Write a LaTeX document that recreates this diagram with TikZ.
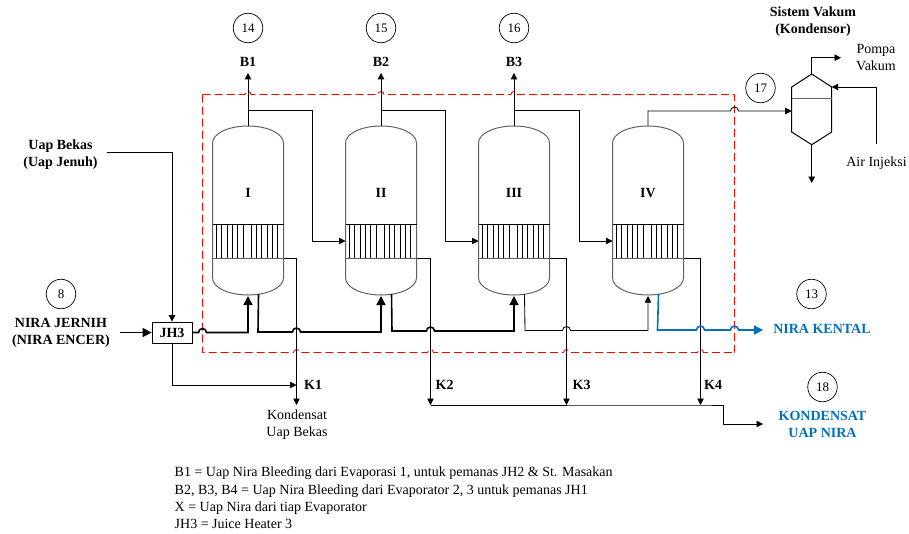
\documentclass[tikz,border=0pt]{standalone}
\usepackage{fontspec}
\setmainfont{Liberation Serif}
\usetikzlibrary{arrows.meta,calc,positioning}

\definecolor{niraBlue}{HTML}{0070C0}
\newcommand{\hopat}[2]{-- ($#2+(-#1,0)$) arc[start angle=180,end angle=0,radius=#1pt]}

\begin{document}
\begin{tikzpicture}[
  x=1pt, y=-1pt,
  font=\fontsize{14}{17.2}\selectfont,
  wall/.style={draw=black!62, line width=1pt},
  tube/.style={black, line width=.7pt},
  pipe/.style={black, line width=.85pt},
  thickpipe/.style={black, line width=1.6pt},
  bluepipe/.style={niraBlue, line width=1.6pt},
  redbox/.style={red, line width=.9pt, dash pattern=on 8pt off 4pt},
  tip/.style={-{Triangle[length=6.5pt,width=6.5pt]}},
  bigtip/.style={-{Triangle[length=9pt,width=9pt]}},
  tag/.style={circle, draw=black, line width=.7pt, minimum size=29.5pt, inner sep=0pt, font=\fontsize{13}{13}\selectfont},
  lbl/.style={inner sep=0pt, align=center},
  boldlbl/.style={inner sep=0pt, align=center, font=\fontsize{14}{17.2}\selectfont\bfseries},
  bluelbl/.style={boldlbl, text=niraBlue}
]
\useasboundingbox (0,0) rectangle (909,533);

\coordinate (rnw) at (202.5,94.5);
\coordinate (rse) at (734.5,352.5);

\foreach \n/\cx/\kx/\lab in {1/248/296.5/I,2/381/430.5/II,3/514/566.5/III,4/648/700.5/IV} {
  \draw[wall] (\cx-35.5,278) -- (\cx-35.5,143) arc[start angle=180,end angle=0,x radius=35.5pt,y radius=17pt]
    -- (\cx+35.5,278) arc[start angle=0,end angle=-180,x radius=35.5pt,y radius=17pt];
  \foreach \d in {4,9.3,14.7,20,25.3,30.7,38.7,44,49.3,54.7,60,65.3}
    \draw[tube] (\cx-35.5+\d,224) -- ++(0,34);
  \draw[tube] (\cx-35.5,224) -- (\cx+35.5,224);
  \draw[wall] (\cx-35.5,258) -- (\cx+35.5,258);
  \node[boldlbl] (ves\n) at (\cx,193) {\lab};
  \coordinate (top\n) at (\cx,126);
  \coordinate (vent\n) at (\cx,110.5);
  \coordinate (in\n) at (\cx,296);
  \coordinate (out\n) at (\cx+10.5,294);
  \coordinate (band\n) at (\cx+35.5,258);
  \coordinate (tb\n) at (\cx-35.5,241);
  \coordinate (kt\n) at (\kx,258);
  \coordinate (kb\n) at (\kx,405);
}

\draw[redbox] (rnw) \hopat{3}{(top1 |- rnw)} \hopat{3}{(top2 |- rnw)} \hopat{3}{(top3 |- rnw)} -- (rse |- rnw) -- (rse);
\draw[redbox] (rnw) -- (rnw |- rse) \hopat{3}{(kt1 |- rse)} \hopat{3}{(kt2 |- rse)} \hopat{3}{(kt3 |- rse)} \hopat{3}{(kt4 |- rse)} -- (rse);

\node[tag] (c14) at (248,28) {14};
\node[tag] (c15) at (381,28) {15};
\node[tag] (c16) at (514,28) {16};
\node[tag] (c17) at (760.5,88) {17};
\node[tag] (c8) at (61,294) {8};
\node[tag] (c13) at (811.5,294) {13};
\node[tag] (c18) at (822.5,387) {18};

\node[boldlbl] (b1) at (248,62) {B1};
\node[boldlbl] (b2) at (381,62) {B2};
\node[boldlbl] (b3) at (514,62) {B3};
\node[boldlbl, anchor=west] (k1) at (304,385) {K1};
\node[boldlbl, anchor=west] (k2) at (435.5,385) {K2};
\node[boldlbl, anchor=west] (k3) at (572.5,385) {K3};
\node[boldlbl, anchor=west] (k4) at (704,385) {K4};

\node[boldlbl] (uap) at (60.5,154.5) {Uap Bekas\\(Uap Jenuh)};
\node[boldlbl] (nira) at (61,332.5) {NIRA JERNIH\\(NIRA ENCER)};
\node[boldlbl, draw=black, line width=.8pt, minimum width=40pt, minimum height=21pt] (jh3) at (172,332.5) {JH3};
\node[lbl] (kubekas) at (297,424.5) {Kondensat\\Uap Bekas};
\node[bluelbl] (kental) at (822,329) {NIRA KENTAL};
\node[bluelbl] (kduap) at (822.5,424.5) {KONDENSAT\\UAP NIRA};
\node[boldlbl] (vakum) at (813,22) {Sistem Vakum\\(Kondensor)};
\node[lbl] (pompa) at (876,57.5) {Pompa\\Vakum};
\node[lbl] (air) at (876.5,163.5) {Air Injeksi};
\node[lbl, anchor=north west, align=left] (legend) at (174.5,467) {B1 = Uap Nira Bleeding dari Evaporasi 1, untuk pemanas JH2 \& St. Masakan\\
  B2, B3, B4 = Uap Nira Bleeding dari Evaporator 2, 3 untuk pemanas JH1\\
  X = Uap Nira dari tiap Evaporator\\
  JH3 = Juice Heater 3};

\coordinate (f1) at (258,332);
\coordinate (f2) at (392,331);
\coordinate (f3) at (525,330.5);
\coordinate (f4) at (657.5,330);
\coordinate (kf) at (723,424);
\coordinate (cdtop) at (811.7,74);
\coordinate (cdbot) at (811.7,144.7);
\coordinate (cdin) at (791.7,111);
\coordinate (cdair) at (831.7,87);

\draw[pipe, tip] (top1) -- ([yshift=-6pt]b1.south);
\draw[pipe, tip] (top2) -- ([yshift=-6pt]b2.south);
\draw[pipe, tip] (top3) -- ([yshift=-6pt]b3.south);
\draw[pipe, tip] (vent1) -| ($(tb2)+(-33,0)$) -- (tb2);
\draw[pipe, tip] (vent2) -| ($(tb3)+(-33,0)$) -- (tb3);
\draw[pipe, tip] (vent3) -| ($(tb4)+(-33,0)$) -- (tb4);
\draw[pipe, tip] (top4) -- (vent4 |- cdin) \hopat{4}{(rse |- cdin)} -- (cdin);

\draw[pipe, tip] (106.7,152.5) -| (jh3.north);
\draw[pipe, tip] (jh3.south) |- (kt1 |- k1);
\draw[pipe, tip] (band1) -- (kt1) -- (kb1);
\draw[pipe, tip] (band2) -- (kt2) -- (kb2);
\draw[pipe, tip] (band3) -- (kt3) -- (kb3);
\draw[pipe, tip] (band4) -- (kt4) -- (kb4);
\draw[pipe, tip] (kb2) -- (kb4) -- (kb4 -| kf) -- (kf) -- ++(40,0);

\draw[thickpipe, bigtip] ([xshift=10pt]nira.east) -- (jh3.west);
\draw[thickpipe, bigtip] (jh3.east) \hopat{4}{(rnw |- jh3)} -- (in1 |- jh3) -- (in1);
\draw[thickpipe, bigtip] (out1) -- (f1) \hopat{4}{(kt1 |- f1)} -- (in2 |- f1) -- (in2);
\draw[thickpipe, bigtip] (out2) -- (f2) \hopat{4}{(kt2 |- f2)} -- (in3 |- f2) -- (in3);
\draw[pipe, tip] (out3) -- (f3) \hopat{4}{(kt3 |- f3)} -- (in4 |- f3) -- (in4);
\draw[bluepipe, bigtip] (out4) -- (f4) \hopat{4}{(kt4 |- f4)} \hopat{4}{(rse |- f4)} -- ([xshift=-10pt]kental.west |- f4);

\draw[line width=1pt, fill=white] (cdtop) -- (cdair) -- (831.7,132) -- (cdbot) -- (791.7,132) -- (791.7,87) -- cycle;
\draw[wall] (791.7,98.7) -- (831.7,98.7);
\draw[pipe, tip] (cdtop) |- (841,57.7);
\draw[pipe, tip] (cdbot) -- (811.7,183);
\draw[pipe, tip] (876.7,144) |- (cdair);

\end{tikzpicture}
\end{document}
